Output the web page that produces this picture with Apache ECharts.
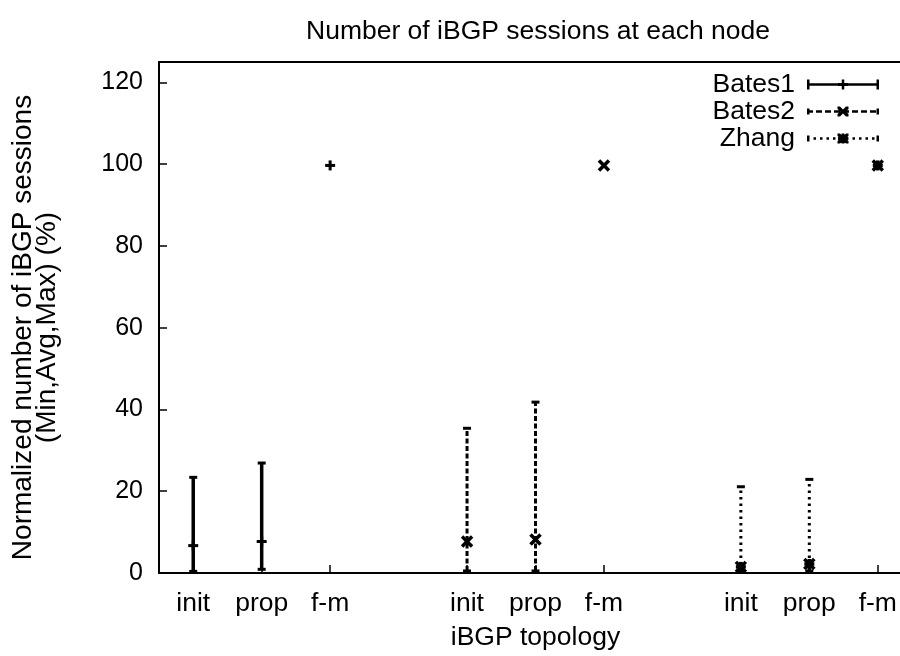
<!DOCTYPE html>
<html><head><meta charset="utf-8">
<script src="https://cdn.jsdelivr.net/npm/echarts@6/dist/echarts.min.js"></script>
<style>html,body{margin:0;padding:0;background:#fff;overflow:hidden;width:900px;height:656px}#c{width:912px;height:656px}</style>
</head><body><div id="c"></div>
<script>
const seriesNames = ['Bates1', 'Bates2', 'Zhang'];
const tickValues = [1, 2, 3, 5, 6, 7, 9, 10, 11];
const tickLabels = ['init', 'prop', 'f-m', 'init', 'prop', 'f-m', 'init', 'prop', 'f-m'];
const yTicks = [0, 20, 40, 60, 80, 100, 120];
const bates1X = [1, 2, 3];
const bates1Min = [0.4, 0.9, 99.7];
const bates1Avg = [6.7, 7.7, 99.7];
const bates1Max = [23.4, 26.9, 99.7];
const bates2X = [5, 6, 7];
const bates2Min = [0.5, 0.5, 99.7];
const bates2Avg = [7.7, 8.2, 99.7];
const bates2Max = [35.4, 41.8, 99.7];
const zhangX = [9, 10, 11];
const zhangMin = [0.5, 0.5, 99.7];
const zhangAvg = [1.5, 2.2, 99.7];
const zhangMax = [21.1, 22.9, 99.7];

const FONT = '"Liberation Sans", Arial, Helvetica, sans-serif';

function rows(xs, mn, av, mx) {
  return xs.map((x, i) => [x, mn[i], av[i], mx[i]]);
}

function markerLines(kind, cx, cy) {
  const s = 5;
  const segs = [];
  if (kind === 'plus' || kind === 'star') {
    segs.push([cx - s, cy, cx + s, cy], [cx, cy - s, cx, cy + s]);
  }
  if (kind === 'x' || kind === 'star') {
    segs.push([cx - s, cy - s, cx + s, cy + s], [cx - s, cy + s, cx + s, cy - s]);
  }
  const lw = kind === 'plus' ? 3 : 3.5;
  return segs.map(p => ({
    type: 'line', shape: {x1: p[0], y1: p[1], x2: p[2], y2: p[3]},
    style: {stroke: '#000', lineWidth: lw, lineCap: 'butt'}
  }));
}

function makeRender(w, dash, kind) {
  return function (params, api) {
    const x = api.value(0), lo = api.value(1), avg = api.value(2), hi = api.value(3);
    const a = api.coord([x, lo]), b = api.coord([x, hi]), m = api.coord([x, avg]);
    const ls = {stroke: '#000', lineWidth: w, lineDash: dash, lineCap: 'butt'};
    const cw = 4;
    const ch = [];
    if (hi - lo > 0.01) {
      ch.push({type: 'line', shape: {x1: a[0], y1: a[1], x2: b[0], y2: b[1]}, style: ls});
      ch.push({type: 'line', shape: {x1: a[0] - cw, y1: a[1], x2: a[0] + cw, y2: a[1]}, style: {stroke: '#000', lineWidth: 3}});
      ch.push({type: 'line', shape: {x1: b[0] - cw, y1: b[1], x2: b[0] + cw, y2: b[1]}, style: {stroke: '#000', lineWidth: 3}});
    }
    return {type: 'group', children: ch.concat(markerLines(kind, m[0], m[1]))};
  };
}

function rect(x, y, w, h) { return 'M' + x + ' ' + y + 'H' + (x + w) + 'V' + (y + h) + 'H' + x + 'Z'; }
function dashes(on, off) {
  let p = '';
  for (let x = 0; x < 72; x += on + off) p += rect(x, 3.75, Math.min(on, 72 - x), 2.5);
  return p;
}
const xMark = 'M30.5 0L33 0L36 3L39 0L41.5 0L41.5 2.5L38.5 5L41.5 7.5L41.5 10L39 10L36 7L33 10L30.5 10L30.5 7.5L33.5 5L30.5 2.5Z';
const icon1 = 'path://' + rect(0, 3.75, 72, 2.5) + rect(0, 0, 2.5, 10) + rect(69.5, 0, 2.5, 10) + rect(34.75, 0, 2.5, 10) + rect(31, 3.5, 10, 3);
const icon2 = 'path://' + dashes(6, 3) + rect(0, 2, 2.5, 6) + rect(69.5, 2, 2.5, 6) + xMark;
const icon3 = 'path://' + dashes(2.5, 4) + rect(0, 2, 2.5, 6) + rect(69.5, 2, 2.5, 6) + xMark + rect(34.5, 0, 3, 10) + rect(31, 3.5, 10, 3);

const chart = echarts.init(document.getElementById('c'), null, {renderer: 'canvas'});
chart.setOption({
  animation: false,
  backgroundColor: '#fff',
  title: {
    text: 'Number of iBGP sessions at each node',
    left: 533, top: 13, textAlign: 'center',
    textStyle: {fontFamily: FONT, fontSize: 26.5, fontWeight: 'normal', color: '#000'}
  },
  legend: {
    orient: 'vertical', right: 28, top: 66,
    itemWidth: 72, itemHeight: 10, itemGap: 0,
    align: 'right', selectedMode: false,
    textStyle: {fontFamily: FONT, fontSize: 26.5, color: '#000', padding: [0, 7, 0, 0]},
    data: [
      {name: seriesNames[0], icon: icon1},
      {name: seriesNames[1], icon: icon2},
      {name: seriesNames[2], icon: icon3}
    ]
  },
  grid: {left: 159, right: 0, top: 62, bottom: 83, show: true, borderColor: '#000', borderWidth: 2, containLabel: false},
  xAxis: {
    type: 'value', min: 0.5, max: 11.5,
    name: 'iBGP topology', nameLocation: 'middle', nameGap: 51,
    nameTextStyle: {fontFamily: FONT, fontSize: 26.5, color: '#000'},
    axisLine: {show: false},
    splitLine: {show: false},
    axisTick: {inside: true, length: 8, lineStyle: {color: '#000', width: 1.5}, customValues: tickValues},
    axisLabel: {
      customValues: tickValues, margin: 17,
      fontFamily: FONT, fontSize: 26.5, color: '#000',
      formatter: v => tickLabels[tickValues.indexOf(Math.round(v))] || ''
    }
  },
  yAxis: {
    type: 'value', min: 0, max: 125,
    name: 'Normalized number of iBGP sessions\n(Min,Avg,Max) (%)',
    nameLocation: 'middle', nameGap: 100, nameRotate: 90,
    nameTextStyle: {fontFamily: FONT, fontSize: 28, color: '#000', lineHeight: 24, align: 'center', padding: [0, 20, 0, 0]},
    axisLine: {show: false},
    splitLine: {show: false},
    axisTick: {inside: true, length: 8, lineStyle: {color: '#000', width: 1.5}, customValues: yTicks},
    axisLabel: {customValues: yTicks, margin: 16, fontFamily: FONT, fontSize: 25, color: '#000'}
  },
  series: [
    {name: seriesNames[0], type: 'custom', itemStyle: {color: '#000'}, encode: {x: 0, y: [1, 2, 3]},
     renderItem: makeRender(3.5, null, 'plus'), data: rows(bates1X, bates1Min, bates1Avg, bates1Max)},
    {name: seriesNames[1], type: 'custom', itemStyle: {color: '#000'}, encode: {x: 0, y: [1, 2, 3]},
     renderItem: makeRender(3, [5, 2.5], 'x'), data: rows(bates2X, bates2Min, bates2Avg, bates2Max)},
    {name: seriesNames[2], type: 'custom', itemStyle: {color: '#000'}, encode: {x: 0, y: [1, 2, 3]},
     renderItem: makeRender(3, [2.5, 4], 'star'), data: rows(zhangX, zhangMin, zhangAvg, zhangMax)}
  ]
});
</script></body></html>
